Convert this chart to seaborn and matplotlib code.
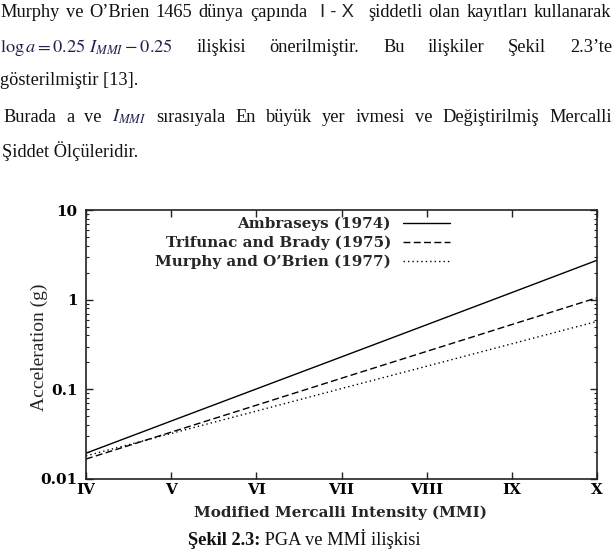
import numpy as np
import pandas as pd
import matplotlib
matplotlib.use("Agg")
import matplotlib.pyplot as plt
import matplotlib.ticker as mticker
import seaborn as sns

# ---------------- data ----------------
mmi = [4, 5, 6, 7, 8, 9, 10]
mmi_labels = ["IV", "V", "VI", "VII", "VIII", "IX", "X"]
ambraseys = [0.0194, 0.0443, 0.101, 0.230, 0.525, 1.20, 2.75]
trifunac = [0.0167, 0.0333, 0.0665, 0.133, 0.265, 0.528, 1.05]
murphy = [0.0181, 0.0322, 0.0572, 0.102, 0.181, 0.322, 0.572]
series_names = ["Ambraseys (1974)", "Trifunac and Brady (1975)", "Murphy and O\u2019Brien (1977)"]
y_ticks = [0.01, 0.1, 1, 10]
y_tick_labels = ["0.01", "0.1", "1", "10"]
x_label = "Modified Mercalli Intensity (MMI)"
y_label = "Acceleration (g)"

line1_a = "Murphy ve O\u2019Brien 1465 dünya çapında".split()
line1_b = "I - X"
line1_c = "şiddetli olan kayıtları kullanarak".split()
line2 = [r"$\log a = 0.25\ I_{MMI} - 0.25$", "ilişkisi", "önerilmiştir.", "Bu", "ilişkiler", "Şekil", "2.3\u2019te"]
line3 = "gösterilmiştir [13]."
line4 = ["Burada", "a", "ve", r"$I_{MMI}$", "sırasıyala", "En", "büyük", "yer", "ivmesi", "ve",
         "Değiştirilmiş", "Mercalli"]
line5 = "Şiddet Ölçüleridir."
caption_bold = "Şekil 2.3:"
caption_rest = " PGA ve MMİ ilişkisi"

# ---------------- figure ----------------
sns.set_style("ticks")
plt.rcParams["mathtext.fontset"] = "stix"
W, H = 614, 551
fig = plt.figure(figsize=(W / 100, H / 100), dpi=100)
fig.patch.set_facecolor("white")

ax = fig.add_axes([86 / W, 1 - 479 / H, (597 - 86) / W, (479 - 210) / H])
ax.set_facecolor("white")

df = pd.DataFrame({
    "MMI": mmi * 3,
    "acc": ambraseys + trifunac + murphy,
    "source": [n for n in series_names for _ in mmi],
})
sns.lineplot(data=df, x="MMI", y="acc", hue="source", style="source",
             hue_order=series_names, style_order=series_names,
             palette={n: "black" for n in series_names},
             dashes=["", (5, 2.4), (1, 2.2)], linewidth=1.0,
             legend=False, ax=ax)

CHART_FS = 10.9
ax.set_yscale("log")
ax.set_xlim(4, 10)
ax.set_ylim(0.01, 10)
ax.set_xticks(mmi)
ax.set_xticklabels(mmi_labels)
ax.set_yticks(y_ticks)
ax.set_yticklabels(y_tick_labels)
ax.yaxis.set_minor_locator(mticker.LogLocator(base=10, subs=range(2, 10), numticks=20))
ax.yaxis.set_minor_formatter(mticker.NullFormatter())
ax.xaxis.set_minor_locator(mticker.NullLocator())
ax.tick_params(which="both", direction="in", top=True, right=True, colors="#222")
ax.tick_params(which="major", length=5, width=1.0)
ax.tick_params(which="minor", length=2.5, width=0.8)
ax.tick_params(axis="y", pad=6)
ax.tick_params(axis="x", pad=3)
for lbl in ax.get_xticklabels() + ax.get_yticklabels():
    lbl.set_fontfamily("DejaVu Serif")
    lbl.set_fontweight("bold")
    lbl.set_fontsize(CHART_FS)
    lbl.set_color("black")
for s in ax.spines.values():
    s.set_linewidth(1.2)
    s.set_color("#222")

ax.set_xlabel(x_label, fontfamily="DejaVu Serif", fontweight="bold", fontsize=CHART_FS)
ax.xaxis.set_label_coords(0.499, (479 - 513) / 269)
ax.xaxis.label.set_va("center")
ax.set_ylabel(y_label, fontfamily="Liberation Serif", fontsize=14)
ax.yaxis.set_label_coords((39 - 86) / 511, (479 - 347) / 269)
ax.yaxis.label.set_va("center")

handles = ax.get_lines()[:3]
ax.legend(handles, series_names, loc="upper right",
          bbox_to_anchor=(450 / W, 1 - 217 / H), bbox_transform=fig.transFigure,
          frameon=False, markerfirst=False, handlelength=3.1, handletextpad=0.8,
          labelspacing=0.3, borderpad=0, borderaxespad=0,
          prop={"family": "DejaVu Serif", "weight": "bold", "size": CHART_FS})

# ---------------- surrounding document text ----------------
renderer = fig.canvas.get_renderer()


def place(s, x, y, **kw):
    return fig.text(x / W, 1 - y / H, s, va="baseline", ha="left", **kw)


def wpx(t):
    return t.get_window_extent(renderer).width


# calibrate the body font so that the first phrase has its reference width
probe = place(" ".join(line1_a), 0, 17, family="Liberation Serif", fontsize=12.0)
fs = 12.0 * 298 / wpx(probe)
probe.remove()

BODY = dict(family="Liberation Serif", fontsize=fs, color="#111")
MATH = dict(fontsize=fs, color="#202050")


def justify(words, x0, x1, y):
    texts = []
    for w in words:
        props = MATH if w.startswith("$") else BODY
        texts.append(place(w, x0, y, **props))
    widths = [wpx(t) for t in texts]
    gap = (x1 - x0 - sum(widths)) / max(len(words) - 1, 1)
    x = x0
    for t, wd in zip(texts, widths):
        t.set_x(x / W)
        x += wd + gap


justify(line1_a, 0, 307, 17)
place(line1_b, 320, 17, family="Liberation Sans", fontsize=fs, color="#222")
justify(line1_c, 368, 611, 17)
justify(line2, 0, 612, 52)
place(line3, 0, 85, **BODY)
justify(line4, 3, 612, 122)
place(line5, 2, 157, **BODY)

cb = place(caption_bold, 0, 545, family="Liberation Serif", fontsize=fs,
           fontweight="bold", color="#111")
cr = place(caption_rest, 0, 545, **BODY)
wb, wr = wpx(cb), wpx(cr)
start = 304 - (wb + wr) / 2
cb.set_x(start / W)
cr.set_x((start + wb) / W)

fig.savefig("out.png", dpi=100)
